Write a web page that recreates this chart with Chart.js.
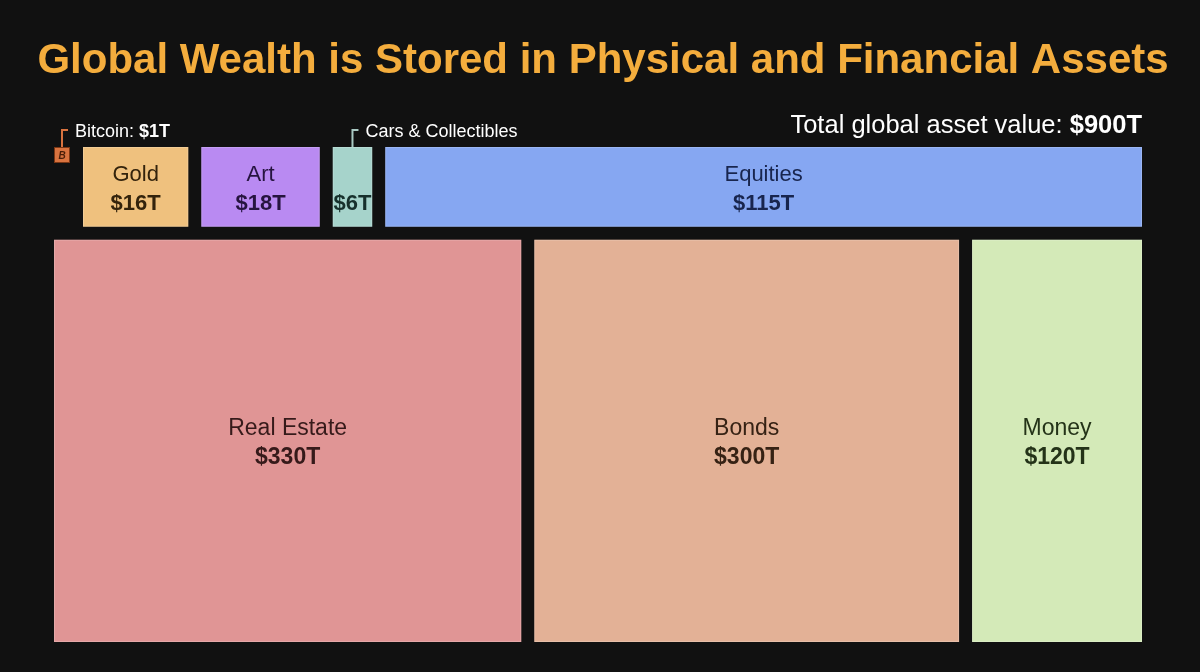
<!DOCTYPE html>
<html>
<head>
<meta charset="utf-8">
<title>Global Wealth is Stored in Physical and Financial Assets</title>
<script src="https://cdn.jsdelivr.net/npm/chart.js@4.4.1/dist/chart.umd.min.js"></script>
<style>
  html, body { margin: 0; padding: 0; background: #111111; }
  #wrap { width: 1200px; height: 672px; }
</style>
</head>
<body>
<div id="wrap"><canvas id="treemap"></canvas></div>
<script>
// values in trillions of USD
const TITLE = 'Global Wealth is Stored in Physical and Financial Assets';
const TOP_ROW_LABELS = ['Bitcoin', 'Gold', 'Art', 'Cars & Collectibles', 'Equities'];
const TOP_ROW_VALUES = [1, 16, 18, 6, 115];
const BOTTOM_ROW_LABELS = ['Real Estate', 'Bonds', 'Money'];
const BOTTOM_ROW_VALUES = [330, 300, 120];
const TOTAL_ASSETS = 900;

const TOP_ROW_FILLS = ['#d9733f', '#efc17e', '#b98af2', '#a6d3cb', '#86a7f2'];
const TOP_ROW_INKS = ['#4a1e08', '#33230c', '#26143f', '#17302c', '#18254e'];
const BOTTOM_ROW_FILLS = ['#e09595', '#e3b196', '#d4eab8'];
const BOTTOM_ROW_INKS = ['#361a1a', '#362214', '#243318'];
// these get a bracket + label above the box instead of a name inside
const OUTSIDE_LABELS = ['Bitcoin', 'Cars & Collectibles'];

const FONT = "'Liberation Sans', Arial, sans-serif";
const GAP = 13;
const MIN_CELL = 16;

const sum = arr => arr.reduce((a, b) => a + b, 0);
const money = v => `$${v}T`;

// split a row's width between its cells in proportion to value
function layoutRow(values, left, right) {
  const avail = right - left - GAP * (values.length - 1);
  let k = avail / sum(values);
  const tiny = values.map(v => v * k < MIN_CELL);
  const rest = sum(values.filter((_, i) => !tiny[i]));
  k = (avail - tiny.filter(Boolean).length * MIN_CELL) / rest;
  let x = left;
  return values.map((v, i) => {
    const w = tiny[i] ? MIN_CELL : v * k;
    const cell = { x0: x, x1: x + w };
    x += w + GAP;
    return cell;
  });
}

function drawMixed(ctx, parts, x, y, align) {
  const widths = parts.map(p => { ctx.font = p.font; return ctx.measureText(p.text).width; });
  let cx = align === 'right' ? x - sum(widths) : x;
  ctx.textAlign = 'left';
  parts.forEach((p, i) => {
    ctx.font = p.font;
    ctx.fillText(p.text, cx, y);
    cx += widths[i];
  });
}

function drawBracket(ctx, x, yBottom, colour) {
  ctx.save();
  ctx.strokeStyle = colour;
  ctx.lineWidth = 2;
  ctx.beginPath();
  ctx.moveTo(x, yBottom);
  ctx.lineTo(x, yBottom - 17);
  ctx.lineTo(x + 6, yBottom - 17);
  ctx.stroke();
  ctx.restore();
}

const treemapPlugin = {
  id: 'treemapCells',
  beforeDraw(chart) {
    const { ctx, width, height } = chart;
    ctx.save();
    ctx.fillStyle = '#111111';
    ctx.fillRect(0, 0, width, height);
    // title drawn by hand so it is not squeezed into the chart area width
    ctx.fillStyle = '#f4ad3d';
    ctx.font = `bold 42px ${FONT}`;
    ctx.textAlign = 'center';
    ctx.textBaseline = 'alphabetic';
    ctx.fillText(TITLE, width / 2 + 3, 73);
    ctx.restore();
  },
  afterDatasetsDraw(chart) {
    const { ctx } = chart;
    const xs = chart.scales.x;
    const ys = chart.scales.y;
    const left = xs.getPixelForValue(0);
    const right = xs.getPixelForValue(1);
    const topSum = sum(TOP_ROW_VALUES);

    const rows = [
      {
        labels: TOP_ROW_LABELS, values: TOP_ROW_VALUES,
        fills: TOP_ROW_FILLS, inks: TOP_ROW_INKS,
        y0: ys.getPixelForValue(0), y1: ys.getPixelForValue(topSum) - GAP / 2 + 1,
        size: 22,
      },
      {
        labels: BOTTOM_ROW_LABELS, values: BOTTOM_ROW_VALUES,
        fills: BOTTOM_ROW_FILLS, inks: BOTTOM_ROW_INKS,
        y0: ys.getPixelForValue(topSum) + GAP / 2 + 1, y1: ys.getPixelForValue(ys.max),
        size: 23,
      },
    ];

    ctx.save();
    rows.forEach(row => {
      const cells = layoutRow(row.values, left, right);
      cells.forEach((c, i) => {
        const label = row.labels[i];
        const tiny = c.x1 - c.x0 <= MIN_CELL;
        const h = tiny ? MIN_CELL : row.y1 - row.y0;
        ctx.fillStyle = row.fills[i];
        ctx.fillRect(c.x0, row.y0, c.x1 - c.x0, h);
        ctx.strokeStyle = tiny ? '#7a3614' : 'rgba(255,255,255,0.18)';
        ctx.lineWidth = 1;
        ctx.strokeRect(c.x0 + 0.5, row.y0 + 0.5, c.x1 - c.x0 - 1, h - 1);

        const cx = (c.x0 + c.x1) / 2;
        const cy = (row.y0 + row.y1) / 2;
        ctx.fillStyle = row.inks[i];
        ctx.textAlign = 'center';
        ctx.textBaseline = 'middle';

        if (tiny) {
          ctx.font = `italic bold 10px ${FONT}`;
          ctx.fillText('B', cx, row.y0 + h / 2 + 1);
        } else {
          if (!OUTSIDE_LABELS.includes(label)) {
            ctx.font = `${row.size}px ${FONT}`;
            ctx.fillText(label, cx, cy - 12);
          }
          ctx.font = `bold ${row.size}px ${FONT}`;
          ctx.fillText(money(row.values[i]), cx, cy + 17);
        }

        if (OUTSIDE_LABELS.includes(label)) {
          drawBracket(ctx, cx, row.y0, tiny ? '#d9733f' : '#a9c9c3');
          ctx.fillStyle = '#ffffff';
          ctx.textBaseline = 'alphabetic';
          const parts = tiny
            ? [{ text: `${label}: `, font: `18px ${FONT}` }, { text: money(row.values[i]), font: `bold 18px ${FONT}` }]
            : [{ text: label, font: `18px ${FONT}` }];
          drawMixed(ctx, parts, cx + 13, row.y0 - 10, 'left');
        }
      });
    });

    // total in the top-right corner
    ctx.fillStyle = '#ffffff';
    ctx.textBaseline = 'alphabetic';
    drawMixed(ctx, [
      { text: 'Total global asset value: ', font: `25.5px ${FONT}` },
      { text: money(TOTAL_ASSETS), font: `bold 25.5px ${FONT}` },
    ], right, 133, 'right');
    ctx.restore();
  },
};

new Chart(document.getElementById('treemap'), {
  type: 'scatter',
  data: { datasets: [{ data: [] }] },
  options: {
    responsive: true,
    maintainAspectRatio: false,
    animation: false,
    layout: { padding: { left: 54, right: 58, top: 147, bottom: 30 } },
    scales: {
      x: { display: false, min: 0, max: 1 },
      y: { display: false, min: 0, max: sum(TOP_ROW_VALUES) + sum(BOTTOM_ROW_VALUES), reverse: true },
    },
    plugins: {
      legend: { display: false },
      tooltip: { enabled: false },
      title: { display: false },
    },
  },
  plugins: [treemapPlugin],
});
</script>
</body>
</html>
